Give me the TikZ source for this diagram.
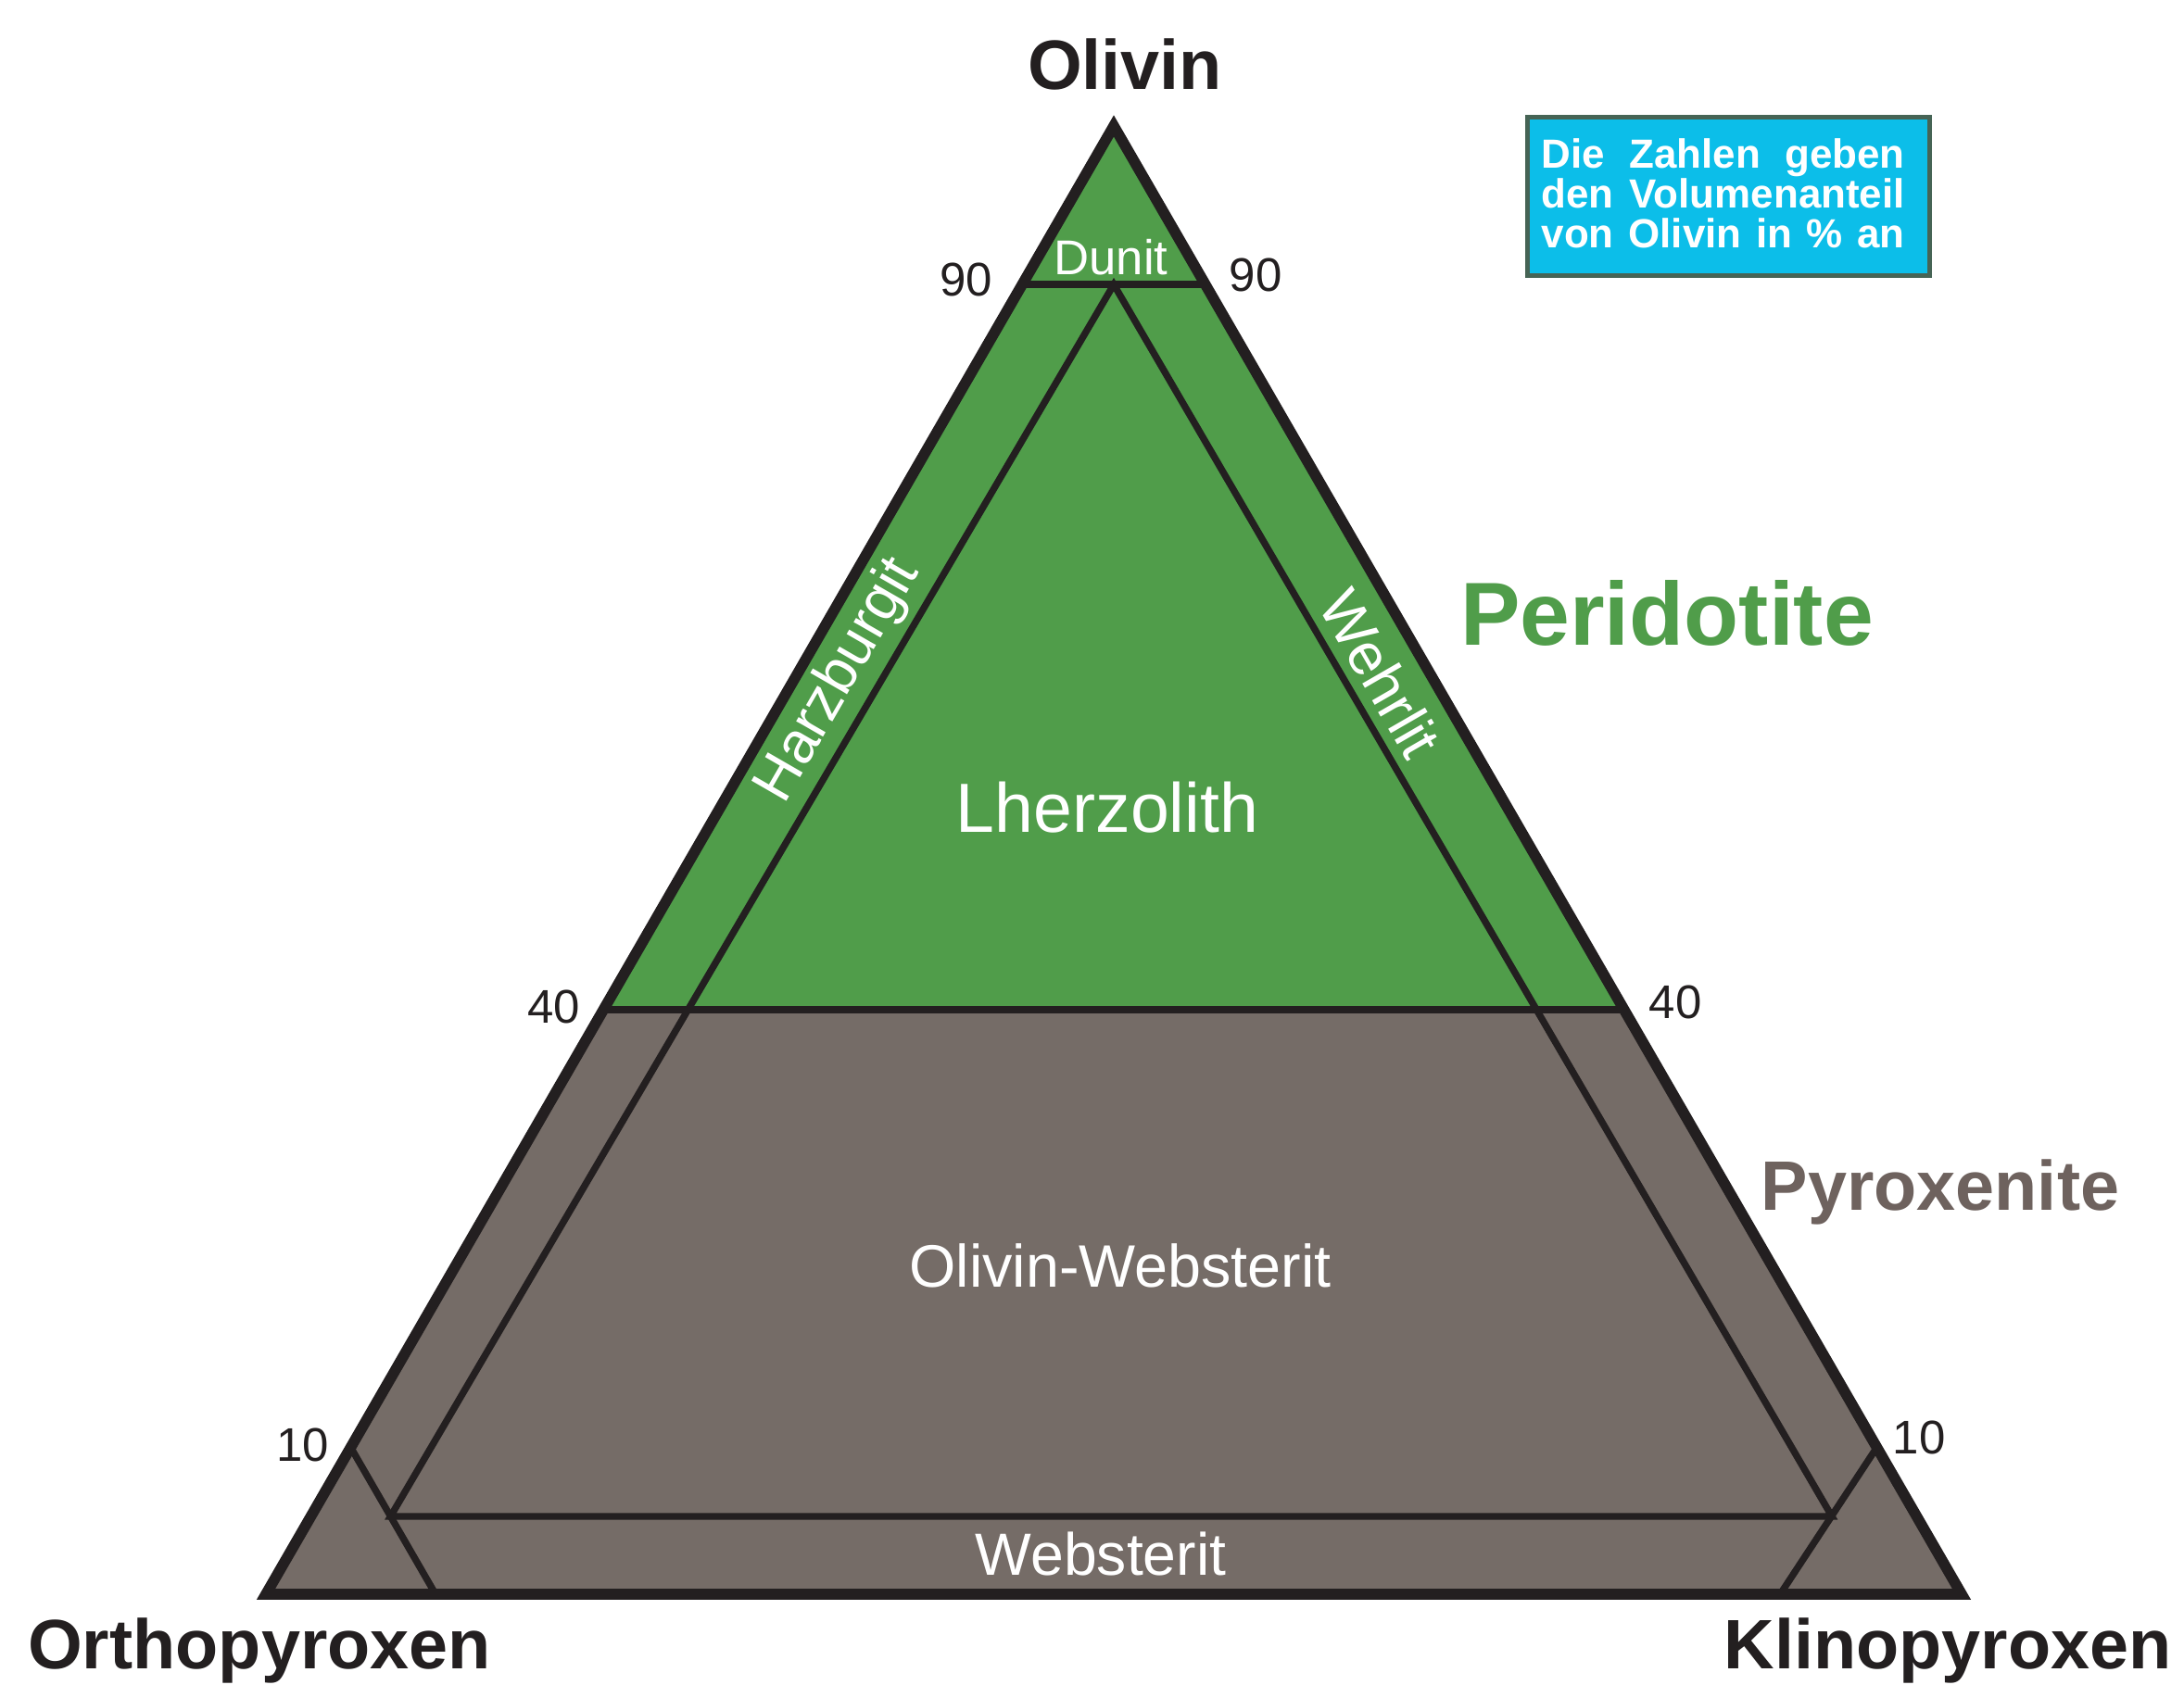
\documentclass[tikz,border=0pt]{standalone}
\usepackage{fontspec}
\setmainfont{Liberation Sans}
\usetikzlibrary{calc}
\definecolor{olgreen}{RGB}{80,157,74}
\definecolor{pxgray}{RGB}{117,108,103}
\definecolor{pxtext}{RGB}{110,98,94}
\definecolor{linedark}{RGB}{35,31,32}
\definecolor{notecyan}{RGB}{12,190,233}
\definecolor{noteframe}{RGB}{70,100,85}
\tikzset{
  endmember/.style={font=\fontsize{21.5}{24}\selectfont\bfseries,text=linedark,anchor=base,inner sep=0pt},
  group/.style={font=\fontsize{#1}{30}\selectfont\bfseries,anchor=base,inner sep=0pt},
  rockname/.style={font=\fontsize{#1}{22}\selectfont,text=white,inner sep=0pt},
  pct/.style={font=\fontsize{14.5}{16}\selectfont,text=linedark,anchor=base,inner sep=0pt},
  notetext/.style={font=\fontsize{12.5}{13}\selectfont\bfseries,text=white,anchor=base west,inner sep=0pt},
  fieldline/.style={draw=linedark,line width=2.1pt},
  frameline/.style={draw=linedark,line width=3.3pt,line join=miter}
}
\begin{document}
\begin{tikzpicture}
\useasboundingbox (0,0) rectangle (23.57,18.19);
\def\xOl{12.02};
\def\yOl{16.83};
\def\xOpx{2.87};
\def\xCpx{21.17};
\def\yBase{0.98};
\coordinate (Ol) at (\xOl,\yOl);
\coordinate (Opx) at (\xOpx,\yBase);
\coordinate (Cpx) at (\xCpx,\yBase);
% olivine lines on the edges
\coordinate (OA90) at (barycentric cs:Ol=0.892,Opx=0.108,Cpx=0);
\coordinate (OC90) at (barycentric cs:Ol=0.892,Opx=0,Cpx=0.108);
\coordinate (OA40) at (barycentric cs:Ol=0.398,Opx=0.602,Cpx=0);
\coordinate (OC40) at (barycentric cs:Ol=0.398,Opx=0,Cpx=0.602);
\coordinate (OA10) at (barycentric cs:Ol=0.1,Opx=0.9,Cpx=0);
\coordinate (OC10) at (barycentric cs:Ol=0.1,Opx=0,Cpx=0.9);
\coordinate (AC90) at (barycentric cs:Ol=0,Opx=0.9,Cpx=0.1);
\coordinate (AC10) at (barycentric cs:Ol=0,Opx=0.107,Cpx=0.893);
% lherzolith triangle
\coordinate (L1) at (barycentric cs:Ol=0.892,Opx=0.054,Cpx=0.054);
\coordinate (L2) at (barycentric cs:Ol=0.053,Opx=0.9,Cpx=0.047);
\coordinate (L3) at (barycentric cs:Ol=0.053,Opx=0.05,Cpx=0.897);
\fill[olgreen] (Ol) -- (OA40) -- (OC40) -- cycle;
\fill[pxgray] (OA40) -- (Opx) -- (Cpx) -- (OC40) -- cycle;
\draw[fieldline] (OA90) -- (OC90);
\draw[fieldline] (OA40) -- (OC40);
\draw[fieldline] (L1) -- (L2) -- (L3) -- cycle;
\draw[fieldline] (OA10) -- (AC90);
\draw[fieldline] (OC10) -- (AC10);
\draw[frameline] (Ol) -- (Opx) -- (Cpx) -- cycle;
\node[endmember] (olivin) at (12.14,17.22) {Olivin};
\node[endmember] (opx) at (2.80,0.17) {Orthopyroxen};
\node[endmember] (cpx) at (21.02,0.17) {Klinopyroxen};
\node[group=27.5,text=olgreen] (peridotite) at (17.99,11.22) {Peridotite};
\node[group=21.5,text=pxtext] (pyroxenite) at (20.94,5.12) {Pyroxenite};
\node[rockname=15,anchor=base] (dunit) at (11.99,15.22) {Dunit};
\node[rockname=21.4,anchor=base] (lherz) at (11.95,9.20) {Lherzolith};
\node[rockname=18.4,anchor=base] (olweb) at (12.09,4.29) {Olivin-Websterit};
\node[rockname=18.3,anchor=base] (web) at (11.88,1.18) {Websterit};
\node[rockname=18,rotate=60] (harz) at (9.05,10.84) {Harzburgit};
\node[rockname=18,rotate=-60] (wehr) at (14.90,10.92) {Wehrlit};
\foreach \x/\y/\v [count=\i] in {10.43/14.99/90,13.55/15.04/90,5.98/7.14/40,18.08/7.19/40,3.27/2.41/10,20.71/2.49/10}
  \node[pct] (pct\i) at (\x,\y) {\v};
\node[draw=noteframe,fill=notecyan,line width=1.4pt,minimum width=4.34cm,minimum height=1.71cm,inner sep=0pt] (note) at (18.655,16.07) {};
\foreach \y/\txt [count=\i] in {16.37/Die Zahlen geben,15.94/den Volumenanteil,15.51/von Olivin in \% an}
  \node[notetext] (note\i) at (16.63,\y) {\makebox[3.92cm][s]{\txt}};
\end{tikzpicture}
\end{document}
